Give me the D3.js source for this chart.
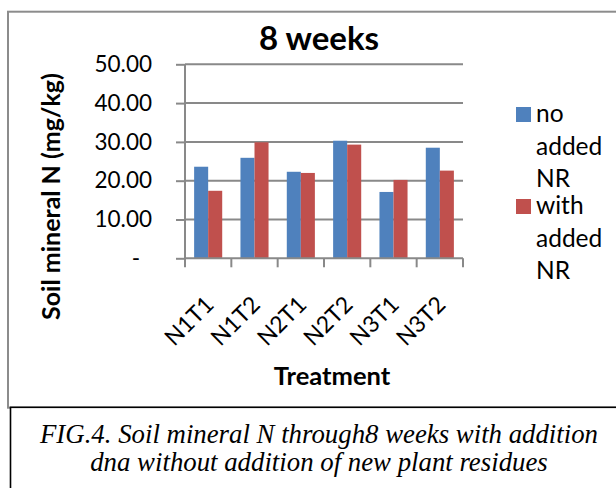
<!DOCTYPE html>
<html>
<head>
<meta charset="utf-8">
<script src="https://cdnjs.cloudflare.com/ajax/libs/d3/7.8.5/d3.min.js"></script>
<style>
  html, body { margin: 0; padding: 0; background: #fff; }
  svg { display: block; }
</style>
</head>
<body>
<svg id="chart" width="616" height="488"></svg>
<script>
// ---- data ----
const categories = ["N1T1", "N1T2", "N2T1", "N2T2", "N3T1", "N3T2"];
const seriesNames = ["no added NR", "with added NR"];
const noAddedNR   = [23.6, 25.9, 22.3, 30.3, 17.1, 28.5];
const withAddedNR = [17.4, 29.9, 22.0, 29.3, 20.2, 22.6];
const yTicks = [0, 10, 20, 30, 40, 50];
const legendLines = [["no", "added", "NR"], ["with", "added", "NR"]];
const titleText = "8 weeks";
const yTitle = "Soil mineral N (mg/kg)";
const xTitle = "Treatment";
const captionLines = ["FIG.4. Soil mineral N through8 weeks with addition",
                      "dna without addition of new plant residues"];
const colors = ["#4F81BD", "#C0504D"];

// ---- layout ----
const svg = d3.select("#chart");
const plot = { left: 185, right: 463, top: 64.3, bottom: 258.3 };
const gridColor = "#898989";
const sans = "Lato, 'Open Sans', sans-serif";

// chart border (gray) and caption box (black)
svg.append("rect").attr("x", 8).attr("y", 11.7).attr("width", 640).attr("height", 396)
  .attr("fill", "#fff").attr("stroke", "#8c8c8c").attr("stroke-width", 2);
svg.append("rect").attr("x", 10.5).attr("y", 407.3).attr("width", 640).attr("height", 120)
  .attr("fill", "#fff").attr("stroke", "#000").attr("stroke-width", 1.6);

const x0 = d3.scaleBand().domain(categories).range([plot.left, plot.right]).padding(0);
const x1 = d3.scaleBand().domain(seriesNames).range([0, x0.bandwidth()])
  .paddingInner(0).paddingOuter(0.65);
const y = d3.scaleLinear().domain([0, 50]).range([plot.bottom, plot.top]);

// gridlines
svg.append("g").selectAll("line").data(yTicks.filter(d => d > 0)).join("line")
  .attr("x1", plot.left).attr("x2", plot.right)
  .attr("y1", d => y(d)).attr("y2", d => y(d))
  .attr("stroke", gridColor).attr("stroke-width", 2);

// bars
const seriesData = [noAddedNR, withAddedNR];
const groups = svg.append("g").selectAll("g").data(categories).join("g")
  .attr("transform", d => `translate(${x0(d)},0)`);
groups.selectAll("rect").data((c, i) => seriesNames.map((s, j) => ({ s, v: seriesData[j][i], j })))
  .join("rect")
  .attr("x", d => x1(d.s)).attr("width", x1.bandwidth())
  .attr("y", d => y(d.v)).attr("height", d => y(0) - y(d.v))
  .attr("fill", d => colors[d.j]);

// y axis
const yAxis = svg.append("g").attr("transform", `translate(${plot.left},0)`)
  .call(d3.axisLeft(y).tickValues(yTicks).tickSize(9).tickPadding(24)
    .tickFormat(d => d === 0 ? "-" : d.toFixed(2)));
yAxis.select(".domain").attr("stroke", gridColor).attr("stroke-width", 2).attr("d", `M0,${plot.top}V${plot.bottom}`);
yAxis.selectAll(".tick line").attr("stroke", gridColor).attr("stroke-width", 2);
yAxis.selectAll(".tick text").attr("font-family", sans).attr("font-size", 22.5).attr("fill", "#000");
yAxis.selectAll(".tick text").filter(d => d === 0).attr("x", -45);

// x axis
const xAxis = svg.append("g").attr("transform", `translate(0,${plot.bottom})`)
  .call(d3.axisBottom(x0).tickSize(0).tickFormat(""));
xAxis.select(".domain").attr("stroke", gridColor).attr("stroke-width", 2).attr("d", `M${plot.left},0H${plot.right}`);
const bounds = categories.map(c => x0(c)).concat([plot.right]);
xAxis.append("g").selectAll("line").data(bounds).join("line")
  .attr("x1", d => d).attr("x2", d => d).attr("y1", 0).attr("y2", 9)
  .attr("stroke", gridColor).attr("stroke-width", 2);
svg.append("g").selectAll("text").data(categories).join("text")
  .attr("transform", d => `translate(${x0(d) + x0.bandwidth() / 2 + 7},306) rotate(-45)`)
  .attr("text-anchor", "end").attr("font-family", sans).attr("font-size", 23).attr("fill", "#000")
  .text(d => d);

// titles
svg.append("text").attr("x", 319).attr("y", 50).attr("text-anchor", "middle")
  .attr("font-family", sans).attr("font-weight", "bold").attr("font-size", 33).text(titleText);
svg.append("text").attr("transform", "translate(60,196.5) rotate(-90)").attr("text-anchor", "middle")
  .attr("font-family", sans).attr("font-weight", "bold").attr("font-size", 25).text(yTitle);
svg.append("text").attr("x", 332).attr("y", 385).attr("text-anchor", "middle")
  .attr("font-family", sans).attr("font-weight", "bold").attr("font-size", 25.5).text(xTitle);

// legend
const leg = svg.append("g").selectAll("g").data(seriesNames).join("g")
  .attr("transform", (d, i) => `translate(516,${107 + i * 92})`);
leg.append("rect").attr("width", 15).attr("height", 15).attr("fill", (d, i) => colors[i]);
leg.each(function(d, i) {
  const g = d3.select(this);
  legendLines[i].forEach((t, k) => {
    g.append("text").attr("x", 20).attr("y", 15 + k * 32.5)
      .attr("font-family", sans).attr("font-size", 24.5).attr("fill", "#000").text(t);
  });
});

// caption
svg.append("g").selectAll("text").data(captionLines).join("text")
  .attr("x", 319).attr("y", (d, i) => 443 + i * 27.5).attr("text-anchor", "middle")
  .attr("font-family", "'Liberation Serif', 'Times New Roman', serif").attr("font-style", "italic")
  .attr("font-size", 26.8).attr("fill", "#000").text(d => d);
</script>
</body>
</html>
